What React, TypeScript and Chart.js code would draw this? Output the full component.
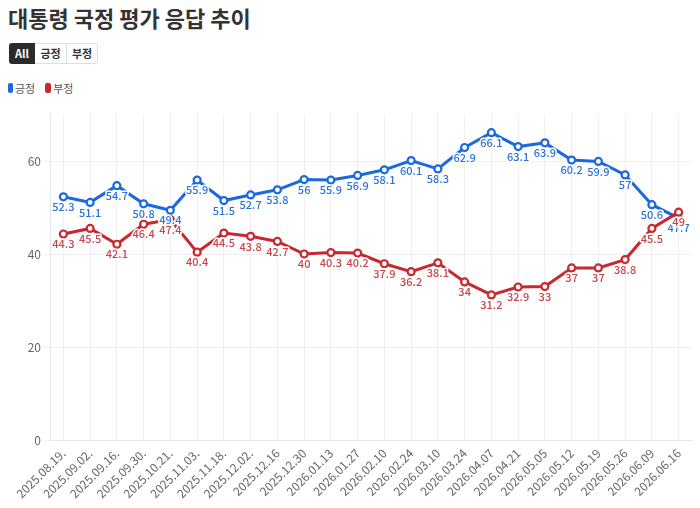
import React, { useEffect, useRef } from "react";
import { Chart, registerables } from "chart.js";

Chart.register(...registerables);

const categories = [
  "2025.08.19.", "2025.09.02.", "2025.09.16.", "2025.09.30.", "2025.10.21.", "2025.11.03.",
  "2025.11.18.", "2025.12.02.", "2025.12.16", "2025.12.30", "2026.01.13", "2026.01.27",
  "2026.02.10", "2026.02.24", "2026.03.10", "2026.03.24", "2026.04.07", "2026.04.21",
  "2026.05.05", "2026.05.12", "2026.05.19", "2026.05.26", "2026.06.09", "2026.06.16",
];

const positive = [
  52.3, 51.1, 54.7, 50.8, 49.4, 55.9, 51.5, 52.7, 53.8, 56, 55.9, 56.9,
  58.1, 60.1, 58.3, 62.9, 66.1, 63.1, 63.9, 60.2, 59.9, 57, 50.6, 47.7,
];

const negative = [
  44.3, 45.5, 42.1, 46.4, 47.4, 40.4, 44.5, 43.8, 42.7, 40, 40.3, 40.2,
  37.9, 36.2, 38.1, 34, 31.2, 32.9, 33, 37, 37, 38.8, 45.5, 49,
];

const yTicks = [0, 20, 40, 60];

const BLUE = "#1b69df";
const BLUE_LABEL = "#2e73d8";
const RED = "#c9282e";
const RED_LABEL = "#c8454a";

const FONT = "'Noto Sans CJK KR', 'Noto Sans', sans-serif";

const labelPlugin = {
  id: "pointLabels",
  afterDatasetsDraw(chart: any) {
    const ctx = chart.ctx;
    const colors = [BLUE_LABEL, RED_LABEL];
    ctx.save();
    ctx.font = `500 11px ${FONT}`;
    ctx.textAlign = "center";
    ctx.textBaseline = "middle";
    ctx.lineJoin = "round";
    chart.data.datasets.forEach((ds: any, di: number) => {
      const meta = chart.getDatasetMeta(di);
      meta.data.forEach((pt: any, i: number) => {
        const txt = String(ds.data[i]);
        const x = pt.x;
        const y = pt.y + 10;
        ctx.strokeStyle = "#ffffff";
        ctx.lineWidth = 3;
        ctx.strokeText(txt, x, y);
        ctx.fillStyle = colors[di];
        ctx.fillText(txt, x, y);
      });
    });
    ctx.restore();
  },
};

export default function App() {
  const ref = useRef<HTMLCanvasElement | null>(null);

  useEffect(() => {
    document.body.style.margin = "0";
    document.body.style.overflow = "hidden";
    const canvas = ref.current!;
    const chart = new Chart(canvas, {
      type: "line",
      data: {
        labels: categories,
        datasets: [
          {
            label: "긍정",
            data: positive,
            borderColor: BLUE,
            backgroundColor: BLUE,
            borderWidth: 3,
            pointRadius: 3.5,
            pointBorderWidth: 2.2,
            pointBackgroundColor: "#ffffff",
            pointBorderColor: BLUE,
            tension: 0,
            order: 1,
          },
          {
            label: "부정",
            data: negative,
            borderColor: RED,
            backgroundColor: RED,
            borderWidth: 3,
            pointRadius: 3.5,
            pointBorderWidth: 2.2,
            pointBackgroundColor: "#ffffff",
            pointBorderColor: RED,
            tension: 0,
            order: 0,
          },
        ],
      },
      options: {
        responsive: false,
        animation: false,
        layout: { padding: { left: 0, right: 8, top: 14.5, bottom: 0 } },
        plugins: {
          legend: { display: false },
          tooltip: { enabled: false },
        },
        scales: {
          x: {
            offset: true,
            grid: {
              offset: false,
              color: "#efefef",
              lineWidth: 1,
              drawTicks: true,
              tickLength: 2,
            },
            border: { color: "#e6e6e6" },
            ticks: {
              autoSkip: false,
              minRotation: 45,
              maxRotation: 45,
              padding: 4,
              color: "#666666",
              font: { size: 12, family: FONT },
            },
            afterFit(scale: any) {
              scale.height = 68;
            },
          },
          y: {
            min: 0,
            max: 70,
            grid: { color: "#efefef", tickLength: 6 },
            border: { color: "#e6e6e6" },
            ticks: {
              stepSize: 10,
              padding: 3,
              color: "#666666",
              font: { size: 12, family: FONT },
            },
            afterBuildTicks(axis: any) {
              axis.ticks = yTicks.map((v) => ({ value: v }));
            },
            afterFit(scale: any) {
              scale.width = 50;
            },
          },
        },
      },
      plugins: [labelPlugin],
    });
    return () => chart.destroy();
  }, []);

  const btnBase: React.CSSProperties = {
    display: "inline-block",
    height: 21,
    lineHeight: "21px",
    fontSize: 11,
    fontWeight: 700,
    textAlign: "center",
    boxSizing: "border-box",
  };

  return (
    <div
      style={{
        position: "relative",
        width: 700,
        height: 508,
        overflow: "hidden",
        fontFamily: FONT,
        background: "#ffffff",
      }}
    >
      <div
        style={{
          position: "absolute",
          left: 8,
          top: 1,
          fontSize: 22,
          fontWeight: 700,
          color: "#333333",
          lineHeight: "32px",
          whiteSpace: "nowrap",
        }}
      >
        대통령 국정 평가 응답 추이
      </div>
      <div style={{ position: "absolute", left: 9, top: 43, display: "flex" }}>
        <span
          style={{
            ...btnBase,
            width: 26,
            background: "#2b2b2b",
            color: "#ffffff",
            borderRadius: "3px 0 0 3px",
          }}
        >
          All
        </span>
        <span
          style={{
            ...btnBase,
            width: 32,
            color: "#333333",
            border: "1px solid #dddddd",
            borderLeft: "none",
            lineHeight: "19px",
          }}
        >
          긍정
        </span>
        <span
          style={{
            ...btnBase,
            width: 31,
            color: "#333333",
            border: "1px solid #dddddd",
            borderLeft: "none",
            borderRadius: "0 3px 3px 0",
            lineHeight: "19px",
          }}
        >
          부정
        </span>
      </div>
      <div
        style={{
          position: "absolute",
          left: 8,
          top: 80,
          display: "flex",
          alignItems: "center",
          fontSize: 11,
          color: "#555555",
          lineHeight: "16px",
        }}
      >
        <span style={{ display: "inline-block", width: 5, height: 10, borderRadius: 2, background: BLUE }} />
        <span style={{ marginLeft: 2 }}>긍정</span>
        <span
          style={{ display: "inline-block", width: 6, height: 10, borderRadius: 2, background: RED, marginLeft: 10 }}
        />
        <span style={{ marginLeft: 2 }}>부정</span>
      </div>
      <canvas
        ref={ref}
        width={700}
        height={408}
        style={{ position: "absolute", left: 0, top: 100, width: 700, height: 408 }}
      />
    </div>
  );
}
